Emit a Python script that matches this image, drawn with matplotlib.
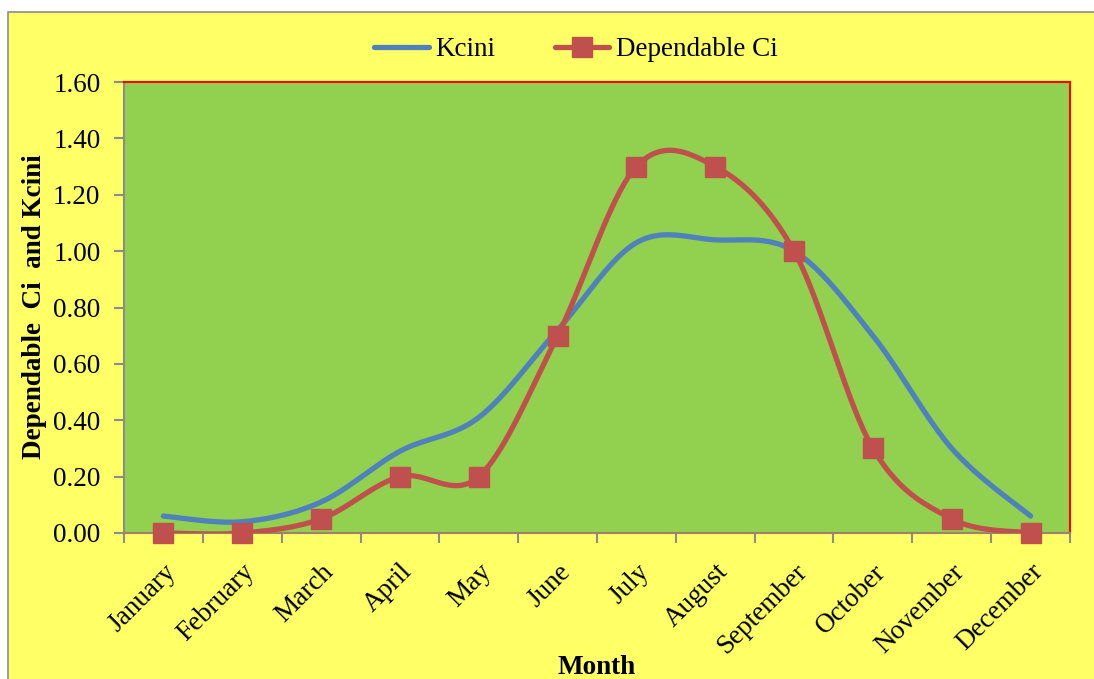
import numpy as np
import matplotlib
matplotlib.use("Agg")
import matplotlib.pyplot as plt
from matplotlib.patches import Rectangle
from matplotlib.lines import Line2D

months = ["January", "February", "March", "April", "May", "June", "July",
          "August", "September", "October", "November", "December"]
kcini = [0.06, 0.04, 0.11, 0.29, 0.41, 0.72, 1.03, 1.04, 1.00, 0.70, 0.30, 0.06]
dependable_ci = [0.00, 0.00, 0.05, 0.20, 0.20, 0.70, 1.30, 1.30, 1.00, 0.30, 0.05, 0.00]
y_ticks = [0.0, 0.2, 0.4, 0.6, 0.8, 1.0, 1.2, 1.4, 1.6]

plt.rcParams['font.family'] = ['Liberation Serif', 'DejaVu Serif']
FS = 19.5


def smooth(xs, ys, n=40):
    xs = np.asarray(xs, float)
    ys = np.asarray(ys, float)
    P = np.column_stack([xs, ys])
    Pe = np.vstack([P[0], P, P[-1]])
    out = []
    t = np.linspace(0, 1, n)
    for i in range(len(P) - 1):
        p0, p1, p2, p3 = Pe[i], Pe[i + 1], Pe[i + 2], Pe[i + 3]
        c1 = p1 + (p2 - p0) / 6.0
        c2 = p2 - (p3 - p1) / 6.0
        seg = ((1 - t) ** 3)[:, None] * p1 + (3 * (1 - t) ** 2 * t)[:, None] * c1 \
            + (3 * (1 - t) * t ** 2)[:, None] * c2 + (t ** 3)[:, None] * p2
        out.append(seg if i == 0 else seg[1:])
    s = np.vstack(out)
    return s[:, 0], s[:, 1]


W, H = 1094, 679
fig = plt.figure(figsize=(W / 100, H / 100), dpi=100, facecolor="white")
fig.patches.append(Rectangle((8 / W, -0.1), 1.2, 1 - 12 / H + 0.1, transform=fig.transFigure,
                             facecolor="#FFFF66", edgecolor="#8C8C8C", linewidth=1.2, zorder=-10))

ax = fig.add_axes([124 / W, 1 - 533 / H, (1070 - 124) / W, (533 - 82) / H])
ax.set_facecolor("#92D050")

x = np.arange(len(months))
bx, by = smooth(x, kcini)
ax.plot(bx, by, color="#4F81BD", lw=3.8, solid_capstyle="round", zorder=3)
rx, ry = smooth(x, dependable_ci)
ax.plot(rx, ry, color="#C0504D", lw=3.8, solid_capstyle="round", zorder=4)
ax.plot(x, dependable_ci, linestyle="none", marker="s", markersize=14,
        color="#C0504D", zorder=5, clip_on=False)

ax.set_xlim(-0.5, len(months) - 0.5)
ax.set_ylim(0, 1.6)
ax.set_yticks(y_ticks)
ax.set_yticklabels([f"{v:.2f}" for v in y_ticks], fontsize=FS)
ax.set_xticks(x)
ax.set_xticklabels(months, rotation=45, ha="right", rotation_mode="anchor", fontsize=FS)
ax.tick_params(axis="x", length=0, pad=19)
ax.set_xticks(np.arange(-0.5, len(months)), minor=True)
ax.tick_params(axis="x", which="minor", length=7, color="#8C8C8C", width=1.5, direction="out")
ax.tick_params(axis="y", length=7, color="#8C8C8C", width=1.5, direction="out", pad=10)

for s in ["top", "right"]:
    ax.spines[s].set_color("#FF0000")
    ax.spines[s].set_linewidth(1.5)
ax.spines["left"].set_color("#8C8C8C")
ax.spines["left"].set_linewidth(1.5)
ax.spines["bottom"].set_color("#A0806A")
ax.spines["bottom"].set_linewidth(1.5)

fig.text(35 / W, 1 - 307 / H, "Dependable  Ci  and Kcini", rotation=90, ha="center", va="center",
         fontsize=FS, fontweight="bold")
fig.text(597 / W, 1 - 667 / H, "Month", ha="center", va="center", fontsize=FS, fontweight="bold")

handles = [Line2D([], [], color="#4F81BD", lw=3.8, solid_capstyle="round"),
           Line2D([], [], color="#C0504D", lw=3.8, marker="s", markersize=14, solid_capstyle="round")]
fig.legend(handles, ["Kcini", "Dependable Ci"], loc="center", bbox_to_anchor=(576 / W, 1 - 50 / H),
           ncol=2, frameon=False, fontsize=FS, handlelength=2.0, handletextpad=0.25,
           columnspacing=2.2)

fig.savefig("out.png", dpi=100, facecolor=fig.get_facecolor())
